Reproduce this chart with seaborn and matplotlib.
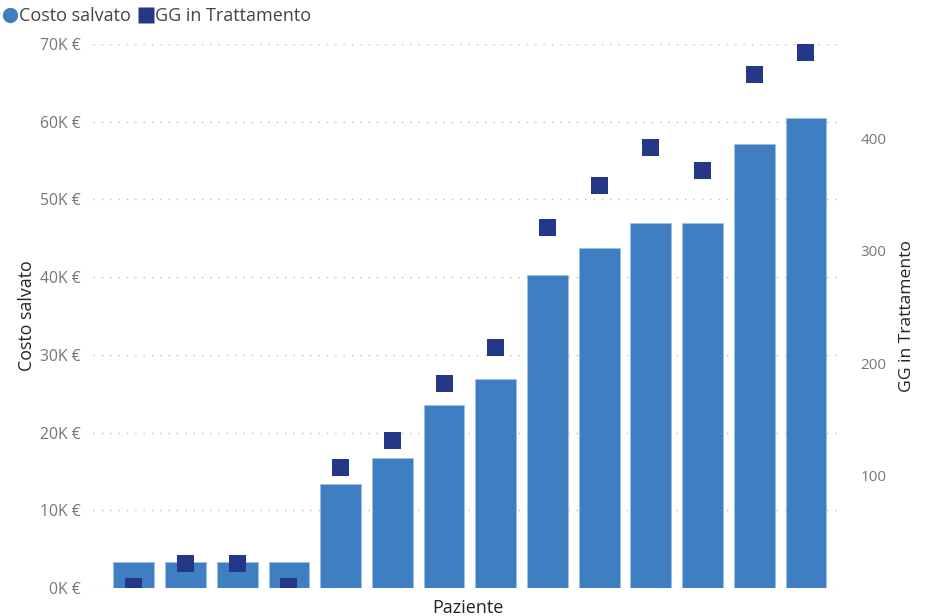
import pandas as pd
import matplotlib.pyplot as plt
from matplotlib.lines import Line2D
import seaborn as sns

# Data
pazienti = ['P01', 'P02', 'P03', 'P04', 'P05', 'P06', 'P07',
            'P08', 'P09', 'P10', 'P11', 'P12', 'P13', 'P14']
costo_salvato = [3400, 3400, 3400, 3400, 13400, 16700, 23500,
                 26900, 40300, 43800, 47000, 47000, 57100, 60500]
gg_trattamento = [1, 22, 22, 1, 107, 131, 182,
                  214, 321, 358, 392, 371, 457, 476]

df = pd.DataFrame({
    'Paziente': pazienti,
    'Costo salvato': costo_salvato,
    'GG in Trattamento': gg_trattamento,
})

bar_color = '#3F7FC1'
sq_color = '#253887'
tick_color = '#777777'
label_color = '#252423'

sns.set_style('white')
plt.rcParams['font.family'] = ['Open Sans', 'DejaVu Sans']

fig = plt.figure(figsize=(9.26, 6.16), dpi=100)
ax = fig.add_axes([0.1004, 0.0455, 0.8096, 0.8831])

sns.barplot(data=df, x='Paziente', y='Costo salvato', color=bar_color,
            width=0.79, edgecolor='#9CC0E6', linewidth=0.6, saturation=1, ax=ax)
ax.set_ylim(0, 70000)
ax.set_xlim(-0.79, 13.71)
ax.set_yticks(range(0, 70001, 10000))
ax.set_yticklabels([f'{v // 1000}K €' for v in range(0, 70001, 10000)],
                   color=tick_color, fontsize=11.3)
ax.set_xticks([])
ax.grid(axis='y', linestyle=(0, (1, 5)), color='#BBBBBB', linewidth=1)
ax.set_axisbelow(True)
ax.tick_params(axis='y', length=0, pad=9)
ax.set_ylabel('Costo salvato', fontsize=12.8, color=label_color, labelpad=3)
ax.set_xlabel('Paziente', fontsize=13, color=label_color, labelpad=8)
for s in ax.spines.values():
    s.set_visible(False)

ax2 = ax.twinx()
sns.scatterplot(data=df, x='Paziente', y='GG in Trattamento', marker='s',
                s=150, color=sq_color, edgecolor='none', ax=ax2, legend=False)
ax2.set_ylim(0, 484)
ax2.set_xlim(-0.79, 13.71)
ax2.set_yticks([100, 200, 300, 400])
ax2.set_yticklabels(['100', '200', '300', '400'], color=tick_color, fontsize=11)
ax2.tick_params(axis='y', length=0, pad=13)
ax2.set_ylabel('GG in Trattamento', fontsize=12.6, color=label_color, labelpad=9)
for s in ax2.spines.values():
    s.set_visible(False)

handles = [
    Line2D([0], [0], marker='o', linestyle='', markersize=11,
           markerfacecolor=bar_color, markeredgecolor='none'),
    Line2D([0], [0], marker='s', linestyle='', markersize=11,
           markerfacecolor=sq_color, markeredgecolor='none'),
]
fig.legend(handles, ['Costo salvato', 'GG in Trattamento'], loc='upper left',
           bbox_to_anchor=(-0.016, 1.006), ncol=2, frameon=False, fontsize=13,
           handletextpad=-0.25, columnspacing=0.1, borderaxespad=0.2,
           handlelength=1.5, labelcolor='#444444')

fig.savefig('out.png', dpi=100)
